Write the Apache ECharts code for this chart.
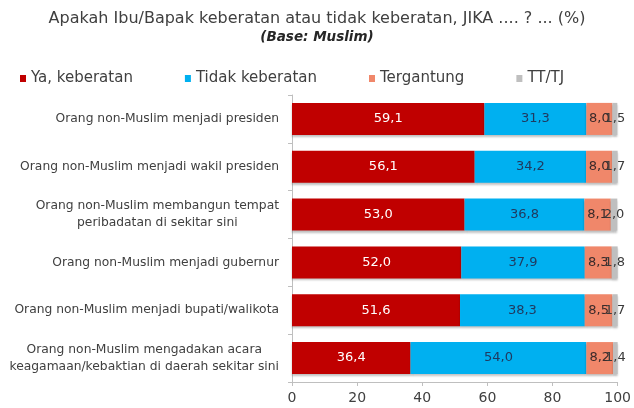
<!DOCTYPE html>
<html>
<head>
<meta charset="utf-8">
<script src="https://cdn.jsdelivr.net/npm/echarts@6/dist/echarts.min.js"></script>
<style>html,body{margin:0;padding:0;background:#fff}#c{width:634px;height:408px}</style>
</head>
<body>
<div id="c"></div>
<script>
const categories = [
  "Orang non-Muslim menjadi presiden",
  "Orang non-Muslim menjadi wakil presiden",
  "Orang non-Muslim membangun tempat\nperibadatan di sekitar sini",
  "Orang non-Muslim menjadi gubernur",
  "Orang non-Muslim menjadi bupati/walikota",
  "Orang non-Muslim mengadakan acara\nkeagamaan/kebaktian di daerah sekitar sini"
];
const seriesNames = ["Ya, keberatan", "Tidak keberatan", "Tergantung", "TT/TJ"];
const yaKeberatan = [59.1, 56.1, 53.0, 52.0, 51.6, 36.4];
const tidakKeberatan = [31.3, 34.2, 36.8, 37.9, 38.3, 54.0];
const tergantung = [8.0, 8.0, 8.1, 8.3, 8.5, 8.2];
const ttTj = [1.5, 1.7, 2.0, 1.8, 1.7, 1.4];
const xTicks = [0, 20, 40, 60, 80, 100];

const colors = ["#C00000", "#00B0F0", "#F0876A", "#BFBFBF"];
const labelColors = ["#FFFFFF", "#1F3A60", "#3A2A2A", "#3A3A3A"];
const values = [yaKeberatan, tidakKeberatan, tergantung, ttTj];
const FONT = "DejaVu Sans";

const chart = echarts.init(document.getElementById('c'), null, {renderer: 'canvas'});
chart.setOption({
  animation: false,
  textStyle: {fontFamily: FONT},
  title: {
    text: "Apakah Ibu/Bapak keberatan atau tidak keberatan, JIKA .... ? ... (%)",
    subtext: "(Base: Muslim)",
    left: 'center', top: 6, itemGap: 3,
    textStyle: {fontFamily: FONT, fontSize: 16, fontWeight: 'normal', color: '#404040'},
    subtextStyle: {fontFamily: FONT, fontSize: 13.5, fontWeight: 'bold', fontStyle: 'italic', color: '#262626'}
  },
  legend: {
    left: 15, top: 66, itemWidth: 6, itemHeight: 7, itemGap: 52,
    icon: 'rect',
    textStyle: {fontFamily: FONT, fontSize: 15, color: '#404040'},
    data: seriesNames
  },
  grid: {left: 292, right: 12, top: 95, bottom: 26, containLabel: false},
  xAxis: {
    type: 'value', min: 0, max: 100, interval: 20,
    axisLine: {show: true, lineStyle: {color: '#BFBFBF'}},
    axisTick: {show: true, length: 4, lineStyle: {color: '#BFBFBF'}},
    splitLine: {show: false},
    axisLabel: {fontFamily: FONT, fontSize: 14, color: '#404040', margin: 9,
      formatter: v => xTicks.includes(v) ? String(v) : ''}
  },
  yAxis: {
    type: 'category', inverse: true, data: categories,
    axisLine: {show: true, lineStyle: {color: '#BFBFBF'}},
    axisTick: {show: true, length: 4, lineStyle: {color: '#BFBFBF'}},
    axisLabel: {
      margin: 13, fontFamily: FONT, fontSize: 12.3, color: '#404040', lineHeight: 17,
      formatter: function (v) {
        const parts = v.split('\n');
        if (parts.length === 1) return v;
        return parts.map(p => '{c|' + p + '}').join('\n');
      },
      rich: {c: {align: 'center', fontFamily: FONT, fontSize: 12.3, color: '#404040', lineHeight: 17}}
    }
  },
  series: seriesNames.map((name, i) => ({
    name: name, type: 'bar', stack: 'total',
    barCategoryGap: '33%',
    data: values[i],
    itemStyle: {color: colors[i], shadowColor: 'rgba(0,0,0,0.25)', shadowOffsetY: 2, shadowBlur: 2},
    label: {
      show: true, position: 'inside', fontFamily: FONT, fontSize: 13,
      color: labelColors[i],
      formatter: p => p.value.toFixed(1).replace('.', ',')
    }
  }))
});
</script>
</body>
</html>
